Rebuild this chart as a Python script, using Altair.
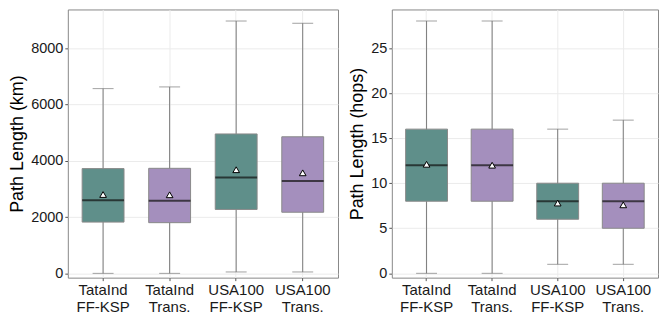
import altair as alt
import pandas as pd

categories = ["TataInd FF-KSP", "TataInd Trans.", "USA100 FF-KSP", "USA100 Trans."]
methods = ["FF-KSP", "Trans.", "FF-KSP", "Trans."]

km_min = [0, 0, 50, 50]
km_q1 = [1820, 1800, 2270, 2170]
km_med = [2600, 2580, 3400, 3280]
km_q3 = [3720, 3730, 4950, 4850]
km_max = [6560, 6620, 8960, 8880]
km_mean = [2800, 2790, 3680, 3570]

hop_min = [0, 0, 1, 1]
hop_q1 = [8, 8, 6, 5]
hop_med = [12, 12, 8, 8]
hop_q3 = [16, 16, 10, 10]
hop_max = [28, 28, 16, 17]
hop_mean = [12.1, 12.0, 7.8, 7.6]

km_ticks = [0, 2000, 4000, 6000, 8000]
hop_ticks = [0, 5, 10, 15, 20, 25]

TEAL = "#5f8f8a"
PURPLE = "#a48fbd"
FONT = "Liberation Sans"


def panel(mn, q1, med, q3, mx, mean, title, domain, ticks, width):
    df = pd.DataFrame({"cat": categories, "method": methods, "mn": mn, "q1": q1,
                       "med": med, "q3": q3, "mx": mx, "mean": mean})
    x = alt.X("cat:N", sort=categories, title=None,
              scale=alt.Scale(paddingInner=0, paddingOuter=0.03),
              axis=alt.Axis(labelExpr="split(datum.label, ' ')", labelAngle=0,
                            labelFontSize=15, labelFont=FONT, labelColor="#1a1a1a",
                            labelLineHeight=17, labelPadding=2, domain=False,
                            tickColor="#555", tickSize=3, grid=True,
                            gridColor="#ebebeb", gridWidth=1))
    yscale = alt.Scale(domain=domain, nice=False, zero=False)
    yaxis = alt.Axis(values=ticks, format="d", labelFontSize=14.5, labelFont=FONT,
                     labelColor="#1a1a1a",
                     titleFontSize=18, titleFont=FONT, titleFontWeight="normal",
                     titleColor="#000", domain=False, tickColor="#555", tickSize=3,
                     labelPadding=2, titlePadding=4, grid=True, gridColor="#ebebeb",
                     gridWidth=1)
    base = alt.Chart(df)
    whisk = base.mark_rule(color="#7a7a7a", strokeWidth=1).encode(
        x=x, y=alt.Y("mn:Q", scale=yscale, axis=yaxis, title=title), y2="mx:Q")
    caps_lo = base.mark_tick(color="#7a7a7a", size=21, thickness=1).encode(
        x=x, y=alt.Y("mn:Q", scale=yscale, axis=yaxis, title=title))
    caps_hi = base.mark_tick(color="#7a7a7a", size=21, thickness=1).encode(
        x=x, y=alt.Y("mx:Q", scale=yscale, axis=yaxis, title=title))
    box = base.mark_bar(size=42, stroke="#8a8a8a", strokeWidth=1).encode(
        x=x, y=alt.Y("q1:Q", scale=yscale, axis=yaxis, title=title), y2="q3:Q",
        color=alt.Color("method:N", scale=alt.Scale(domain=["FF-KSP", "Trans."],
                                                     range=[TEAL, PURPLE]), legend=None))
    median = base.mark_tick(color="#111", size=42, thickness=2).encode(
        x=x, y=alt.Y("med:Q", scale=yscale, axis=yaxis, title=title))
    meanpt = base.mark_point(shape="triangle-up", size=45, filled=True, fill="white",
                             stroke="black", strokeWidth=1, opacity=1).encode(
        x=x, y=alt.Y("mean:Q", scale=yscale, axis=yaxis, title=title))
    return alt.layer(whisk, caps_lo, caps_hi, box, median, meanpt).properties(
        width=width, height=269)


left = panel(km_min, km_q1, km_med, km_q3, km_max, km_mean, "Path Length (km)",
             [-152, 9370], km_ticks, 271)
right = panel(hop_min, hop_q1, hop_med, hop_q3, hop_max, hop_mean, "Path Length (hops)",
              [-0.48, 29.28], hop_ticks, 267)

chart = alt.hconcat(left, right, spacing=9).properties(
    padding={"left": 0, "top": 0, "right": 0, "bottom": 0}
).configure_view(stroke="#888888", strokeWidth=1)

chart.save("out.html", embed_options={"renderer": "svg", "actions": False})
